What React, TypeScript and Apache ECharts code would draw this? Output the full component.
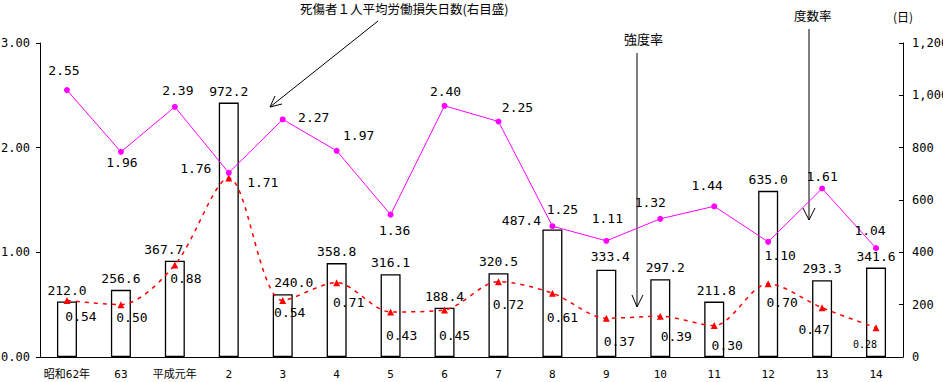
import React, { useEffect, useRef } from "react";
import * as echarts from "echarts";

const categories = ["昭和62年", "63", "平成元年", "2", "3", "4", "5", "6", "7", "8", "9", "10", "11", "12", "13", "14"];
// 度数率 (left axis)
const frequencyRate = [2.55, 1.96, 2.39, 1.76, 2.27, 1.97, 1.36, 2.40, 2.25, 1.25, 1.11, 1.32, 1.44, 1.10, 1.61, 1.04];
// 強度率 (left axis)
const severityRate = [0.54, 0.50, 0.88, 1.71, 0.54, 0.71, 0.43, 0.45, 0.72, 0.61, 0.37, 0.39, 0.30, 0.70, 0.47, 0.28];
// 死傷者1人平均労働損失日数 (right axis)
const lostDays = [212.0, 256.6, 367.7, 972.2, 240.0, 358.8, 316.1, 188.4, 320.5, 487.4, 333.4, 297.2, 211.8, 635.0, 293.3, 341.6];

const leftTicks = [0, 1, 2, 3];
const rightTicks = [0, 200, 400, 600, 800, 1000, 1200];

// label placement (offsets from the point, in px)
const freqLabelOffsets = [[-3, -20], [1, 11], [3, -16], [-33, -4], [31, -2], [22, -15], [4, 16], [1, -14], [19, -14], [10, -17], [1, -22], [-10, -16], [-7, -21], [12, 14], [0, -12], [-6, -18]];
const sevLabelOffsets = [[14, 16], [11, 13], [11, 14], [34, 4], [7, 12], [12, 20], [11, 24], [10, 26], [10, 23], [10, 24], [13, 23], [16, 20], [13, 20], [14, 19], [-8, 22], [-11, 17]];
const barLabelOffsets = [[0, 0], [0, 0], [-11, 0], [0, 0], [11, 0], [0, 0], [0, 0], [0, 0], [0, 0], [-31, 3], [4, -2], [5, 0], [2, 0], [0, 0], [0, 0], [0, 0]];

const MONO = "'DejaVu Sans Mono', 'Noto Sans CJK JP', monospace";
const CJK = "'Noto Sans CJK JP', 'DejaVu Sans', sans-serif";

function withComma(v: number): string {
  return String(v).replace(/\B(?=(\d{3})+(?!\d))/g, ",");
}

export default function App() {
  const ref = useRef<HTMLDivElement>(null);
  useEffect(() => {
    if (!ref.current) return;
    const chart = echarts.init(ref.current, null, { renderer: "svg" });
    const option: any = {
      animation: false,
      backgroundColor: "#ffffff",
      grid: { left: 40, right: 40, top: 43, bottom: 25, containLabel: false, outerBoundsMode: "none" },
      xAxis: {
        type: "category",
        data: categories,
        axisLine: { lineStyle: { color: "#000", width: 1 } },
        axisTick: { inside: true, length: 3, lineStyle: { color: "#000" } },
        axisLabel: { color: "#000", fontFamily: MONO, fontSize: 11, margin: 12, interval: 0 },
      },
      yAxis: [
        {
          type: "value",
          min: leftTicks[0],
          max: leftTicks[leftTicks.length - 1],
          interval: 1,
          splitLine: { show: false },
          axisLine: { show: true, lineStyle: { color: "#000", width: 1 } },
          axisTick: { show: true, length: 4, lineStyle: { color: "#000" } },
          axisLabel: { color: "#000", fontFamily: MONO, fontSize: 12, margin: 10, formatter: (v: number) => v.toFixed(2) },
        },
        {
          type: "value",
          min: rightTicks[0],
          max: rightTicks[rightTicks.length - 1],
          interval: 200,
          splitLine: { show: false },
          axisLine: { show: true, lineStyle: { color: "#000", width: 1 } },
          axisTick: { show: true, inside: true, length: 4, lineStyle: { color: "#000" } },
          axisLabel: { color: "#000", fontFamily: MONO, fontSize: 12, margin: 9, formatter: (v: number) => withComma(v) },
        },
      ],
      series: [
        {
          type: "bar",
          yAxisIndex: 1,
          barWidth: 20,
          z: 1,
          itemStyle: { color: "#ffffff", borderColor: "#000", borderWidth: 1.3 },
          label: { show: true, position: "top", color: "#000", fontFamily: MONO, fontSize: 13, formatter: (p: any) => Number(p.value).toFixed(1) },
          data: lostDays.map((v, i) => ({ value: v, label: { offset: barLabelOffsets[i] } })),
        },
        {
          type: "line",
          yAxisIndex: 0,
          z: 3,
          symbol: "circle",
          symbolSize: 6,
          lineStyle: { color: "#ff00ff", width: 1 },
          itemStyle: { color: "#ff00ff" },
          label: { show: true, position: "inside", color: "#000", fontFamily: MONO, fontSize: 13, formatter: (p: any) => Number(p.value).toFixed(2) },
          data: frequencyRate.map((v, i) => ({ value: v, label: { offset: freqLabelOffsets[i] } })),
        },
        {
          type: "line",
          yAxisIndex: 0,
          z: 2,
          smooth: 0.3,
          symbol: "triangle",
          symbolSize: 7,
          lineStyle: { color: "#ff0000", width: 1.5, type: [4, 5] },
          itemStyle: { color: "#ff0000" },
          label: { show: true, position: "inside", color: "#000", fontFamily: MONO, fontSize: 13, formatter: (p: any) => Number(p.value).toFixed(2) },
          data: severityRate.map((v, i) => ({
            value: v,
            label: i === severityRate.length - 1 ? { offset: sevLabelOffsets[i], fontSize: 10 } : { offset: sevLabelOffsets[i] },
          })),
        },
      ],
      graphic: [
        { type: "text", left: 300, top: 2, style: { text: "死傷者１人平均労働損失日数(右目盛)", font: `12.5px ${CJK}`, fill: "#000" } },
        { type: "text", left: 624, top: 32, style: { text: "強度率", font: `13px ${CJK}`, fill: "#000" } },
        { type: "text", left: 794, top: 9, style: { text: "度数率", font: `12.5px ${CJK}`, fill: "#000" } },
        { type: "text", left: 893, top: 10, style: { text: "(日)", font: `12px ${CJK}`, fill: "#000" } },
        { type: "line", shape: { x1: 378, y1: 21, x2: 270, y2: 107 }, style: { stroke: "#000", lineWidth: 1 } },
        { type: "polyline", shape: { points: [[275, 96], [270, 107], [282, 104]] }, style: { stroke: "#000", lineWidth: 1, fill: null } },
        { type: "line", shape: { x1: 637, y1: 53, x2: 637, y2: 307 }, style: { stroke: "#000", lineWidth: 1 } },
        { type: "polyline", shape: { points: [[632, 295], [637, 307], [643, 295]] }, style: { stroke: "#000", lineWidth: 1, fill: null } },
        { type: "line", shape: { x1: 809, y1: 29, x2: 809, y2: 220 }, style: { stroke: "#000", lineWidth: 1 } },
        { type: "polyline", shape: { points: [[803, 208], [809, 220], [815, 208]] }, style: { stroke: "#000", lineWidth: 1, fill: null } },
      ],
    };
    chart.setOption(option);
    return () => chart.dispose();
  }, []);
  return <div ref={ref} style={{ position: "absolute", left: 0, top: 0, width: 943, height: 382 }} />;
}
